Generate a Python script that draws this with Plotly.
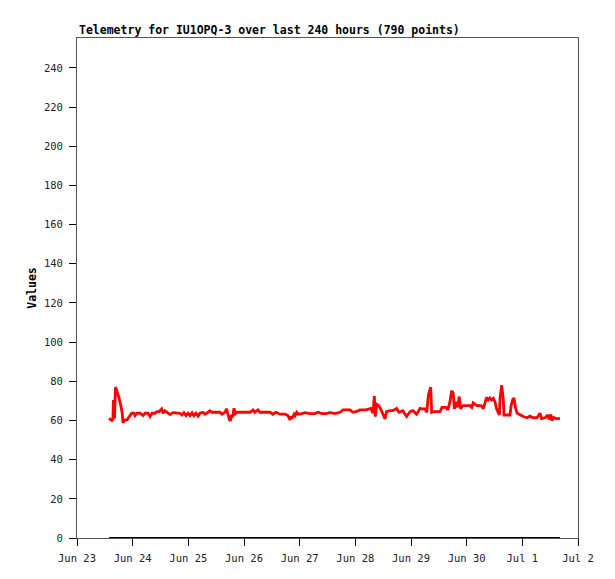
import pandas as pd
import plotly.graph_objects as go

# hours since Jun 23 00:00 and telemetry values
hours = [13.8, 14.4, 15.0, 15.3, 15.5, 15.7, 16.2, 16.4, 16.6, 17.0, 17.4, 18.1, 18.8, 19.5, 19.8,
         20.3, 20.7, 21.6, 22.0, 22.5, 23.6, 24.6, 25.0, 25.9, 27.2, 28.5, 29.3, 30.6, 31.5, 32.3,
         33.6, 34.4, 35.4, 36.5, 37.1, 37.9, 39.2, 40.1, 41.4, 42.7, 44.4, 45.3, 46.1, 47.0, 47.9,
         48.7, 49.6, 50.4, 51.3, 52.2, 53.0, 54.3, 55.2, 56.5, 57.3, 58.2, 59.5, 61.6, 62.5, 63.8,
         64.5, 65.1, 65.7, 66.2, 66.6, 67.0, 67.7, 68.3, 69.0, 70.3, 72.4, 74.6, 75.9, 76.7, 78.0,
         78.9, 79.8, 81.0, 83.2, 84.5, 85.8, 87.5, 89.7, 91.0, 91.8, 92.3, 92.7, 93.6, 94.0, 94.7,
         95.3, 97.0, 98.3, 100.4, 102.6, 103.9, 105.6, 107.3, 109.1, 111.2, 113.4, 114.7, 116.0,
         117.7, 119.0, 120.3, 122.0, 123.3, 124.6, 126.7, 127.6, 128.2, 128.6, 129.2, 130.2, 131.1,
         131.9, 132.8, 133.5, 134.9, 136.2, 137.8, 138.8, 140.5, 142.1, 143.6, 144.9, 146.4, 147.9,
         148.7, 150.0, 150.8, 151.5, 152.5, 152.9, 153.6, 155.2, 156.5, 157.4, 159.1, 159.9, 160.8,
         161.5, 162.2, 162.7, 163.4, 164.0, 164.8, 165.4, 166.4, 168.1, 169.4, 170.2, 170.8, 172.4,
         174.2, 175.2, 175.9, 176.6, 177.3, 178.0, 178.8, 179.5, 180.2, 180.9, 182.1, 182.4, 183.1,
         183.8, 184.1, 185.4, 186.7, 187.1, 187.8, 188.4, 189.1, 189.8, 191.0, 192.4, 194.0, 195.3,
         196.6, 198.3, 199.6, 200.3, 201.8, 203.0, 203.5, 204.3, 204.8, 205.6, 206.5, 208.2]

values = [61.1, 60.5, 60.0, 60.5, 61.0, 70.5, 61.0, 70.0, 77.0, 76.0, 74.7, 71.5, 68.0, 63.8, 58.9,
          60.0, 60.3, 60.3, 61.0, 62.0, 63.7, 63.7, 62.5, 63.7, 63.7, 62.5, 63.7, 63.7, 62.0, 63.7,
          63.7, 64.5, 64.5, 65.9, 63.7, 65.0, 63.7, 63.0, 64.0, 63.7, 63.7, 62.8, 64.0, 62.5, 63.7,
          62.5, 64.0, 62.5, 63.7, 62.2, 63.7, 64.2, 63.2, 64.2, 65.0, 64.2, 64.2, 64.2, 63.2, 64.2,
          66.0, 62.8, 60.5, 59.8, 63.0, 61.5, 66.2, 63.5, 64.2, 64.2, 64.2, 64.2, 65.4, 64.2, 65.4,
          64.2, 64.2, 64.2, 64.2, 63.2, 64.2, 63.2, 63.2, 62.5, 60.3, 62.0, 61.0, 63.2, 62.5, 64.2,
          63.2, 63.5, 64.0, 63.5, 63.5, 64.2, 63.5, 63.5, 64.0, 63.5, 64.2, 65.4, 65.4,
          65.4, 64.2, 64.5, 65.4, 65.4, 65.4, 66.2, 63.7, 72.5, 62.0, 68.3, 67.5, 65.4,
          63.2, 60.8, 64.5, 65.0, 65.0, 66.2, 64.2, 65.0, 62.0, 64.5, 65.0, 63.2, 66.2,
          65.9, 65.9, 64.2, 73.0, 77.0, 64.2, 64.5, 64.5, 64.5, 66.7, 66.7, 65.4, 69.6,
          75.2, 74.0, 65.9, 69.6, 66.7, 72.2, 66.0, 67.6, 67.6, 67.6, 66.7, 69.0, 67.6,
          67.6, 66.0, 69.0, 71.8, 70.5, 71.5, 70.5, 71.3, 69.6, 66.0, 62.8, 71.5, 78.0,
          70.5, 62.8, 62.8, 62.8, 67.2, 70.5, 71.5, 66.2, 63.7, 62.8, 62.0, 61.4, 62.2,
          61.4, 61.4, 63.7, 61.0, 61.4, 62.8, 60.5, 63.0, 60.0, 61.5, 61.0, 61.0]

zero_values = [0.0 for _ in hours]

start = pd.Timestamp("2024-06-23 00:00")
times = [start + pd.Timedelta(hours=h) for h in hours]

y_ticks = list(range(0, 241, 20))

fig = go.Figure()
fig.add_trace(go.Scatter(x=times, y=zero_values, mode="lines",
                         line=dict(color="#000000", width=2), showlegend=False))
fig.add_trace(go.Scatter(x=times, y=values, mode="lines",
                         line=dict(color="#ff0000", width=2.8), showlegend=False))

mono = "DejaVu Sans Mono"
fig.update_layout(
    width=615, height=579,
    margin=dict(l=69, r=45, t=30, b=49),
    paper_bgcolor="white", plot_bgcolor="white",
    font=dict(family=mono, size=10, color="#000000"),
    showlegend=False,
    annotations=[dict(text="<b>Telemetry for IU1OPQ-3 over last 240 hours (790 points)</b>",
                      xref="paper", yref="paper", x=0, y=1, xanchor="left", yanchor="bottom",
                      yshift=-1, showarrow=False, font=dict(family=mono, size=11.5, color="#000000"))],
)
fig.update_xaxes(
    type="date",
    range=[pd.Timestamp("2024-06-23"), pd.Timestamp("2024-07-02")],
    dtick=86400000, tick0=pd.Timestamp("2024-06-23"), tickformat="%b %-d",
    showgrid=False, zeroline=False,
    showline=True, linecolor="#555555", linewidth=1, mirror=True,
    ticks="outside", ticklen=7, tickcolor="#000000", ticklabelstandoff=3,
    tickfont=dict(family=mono, size=10.5, color="#222222"),
)
fig.update_yaxes(
    range=[0, 255.3], tickvals=y_ticks,
    showgrid=False, zeroline=False,
    showline=True, linecolor="#555555", linewidth=1, mirror=True,
    ticks="outside", ticklen=7, tickcolor="#000000", ticklabelstandoff=4,
    tickfont=dict(family=mono, size=10.5, color="#222222"),
    title=dict(text="<b>Values</b>", font=dict(family=mono, size=11.5, color="#000000"), standoff=4),
)

fig.write_html("out.html")
